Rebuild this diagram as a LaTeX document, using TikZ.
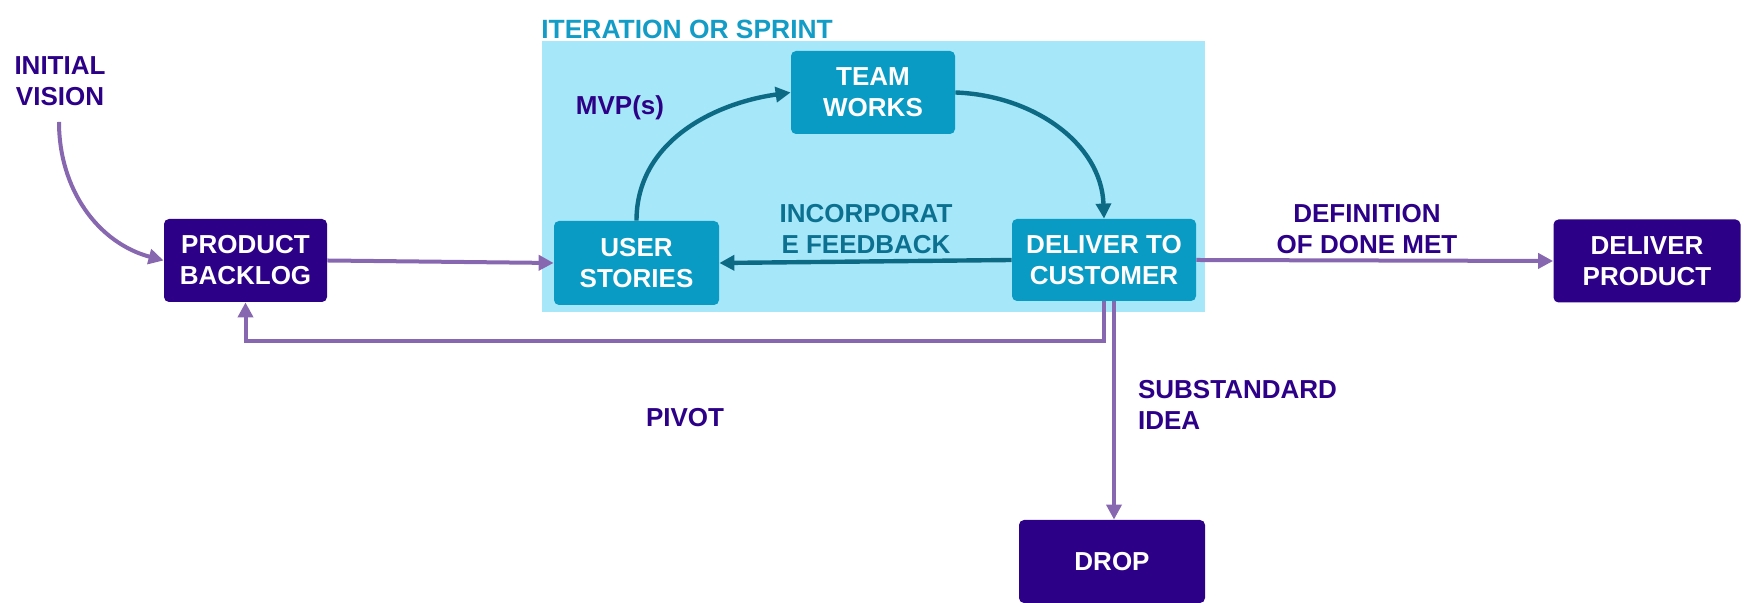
\documentclass[tikz,border=0pt]{standalone}
\usepackage{fontspec}
\setmainfont{Liberation Sans}
\usetikzlibrary{arrows.meta}

\definecolor{darkpurple}{HTML}{2D0088}
\definecolor{teal1}{HTML}{0A9BC4}
\definecolor{skyblue}{HTML}{A6E7F9}
\definecolor{tealarrow}{HTML}{0D6A85}
\definecolor{lilac}{HTML}{8767B0}
\definecolor{sprinttext}{HTML}{139CC6}
\definecolor{feedbacktext}{HTML}{0C7190}

\tikzset{
    every node/.style={font=\fontsize{13}{15.5}\selectfont\bfseries},
    darkbox/.style={fill=darkpurple, rounded corners=2.5pt, text=white,
        align=center, minimum height=41.5pt},
    tealbox/.style={fill=teal1, rounded corners=2.5pt, text=white,
        align=center, minimum height=41.5pt},
    label/.style={text=darkpurple, align=center},
    purplearrow/.style={draw=lilac, line width=2pt,
        -{Triangle[length=7.5pt,width=7.5pt]}},
    tealline/.style={draw=tealarrow, line width=2.2pt,
        -{Triangle[length=7.5pt,width=7.5pt]}}
}

\begin{document}
\begin{tikzpicture}[x=0.5pt, y=0.5pt]

    \useasboundingbox (0,0) rectangle (1749,603);

    % sprint area
    \fill[skyblue] (542,291) rectangle (1205,562);
    \node[text=sprinttext, anchor=west, inner sep=0pt,
        font=\fontsize{13.2}{15.5}\selectfont\bfseries] (sprint) at (541,573.5)
        {ITERATION OR SPRINT};

    \node[darkbox, minimum width=81.5pt] (backlog) at (245.5,342.5)
        {PRODUCT\\BACKLOG};

    \node[tealbox, minimum width=82.5pt, minimum height=42pt] (stories) at (636.5,340)
        {USER\\STORIES};

    \node[tealbox, minimum width=82pt] (team) at (873,510.5)
        {TEAM\\WORKS};

    \node[tealbox, minimum width=92pt, minimum height=41pt] (deliver) at (1104,343)
        {DELIVER TO\\CUSTOMER};

    \node[darkbox, minimum width=93.5pt] (product) at (1647,342)
        {DELIVER\\PRODUCT};

    \node[darkbox, minimum width=93pt] (drop) at (1112,41.5)
        {DROP};

    % labels
    \node[label] (vision) at (60,522) {INITIAL\\VISION};
    \node[label] (mvp) at (620,495) {MVP(s)};
    \node[text=feedbacktext, align=center] (feedback) at (866,374)
        {INCORPORAT\\E FEEDBACK};
    \node[label] (done) at (1367,374) {DEFINITION\\OF DONE MET};
    \node[label, align=left, anchor=west] (substandard) at (1131,198)
        {SUBSTANDARD\\IDEA};
    \node[label] (pivot) at (685,185) {PIVOT};

    \coordinate (visionstart) at (59,481);

    \draw[purplearrow] (visionstart) to[out=-90, in=165] (backlog.west);
    \draw[purplearrow] (backlog.east) -- (stories.west);

    \draw[tealline] (stories.north) to[out=90, in=188] (team.west);
    \draw[tealline] (team.east) to[out=-2, in=92] (deliver.north);
    \draw[tealline] (deliver.west) -- (stories.east);

    \draw[purplearrow] (deliver.east) -- (product.west);
    \draw[purplearrow] (deliver.south) -- ++(0,-40) -| (backlog.south);
    \draw[purplearrow] ([xshift=5pt]deliver.south)
        -- ([xshift=5pt]deliver.south |- drop.north);

\end{tikzpicture}
\end{document}
